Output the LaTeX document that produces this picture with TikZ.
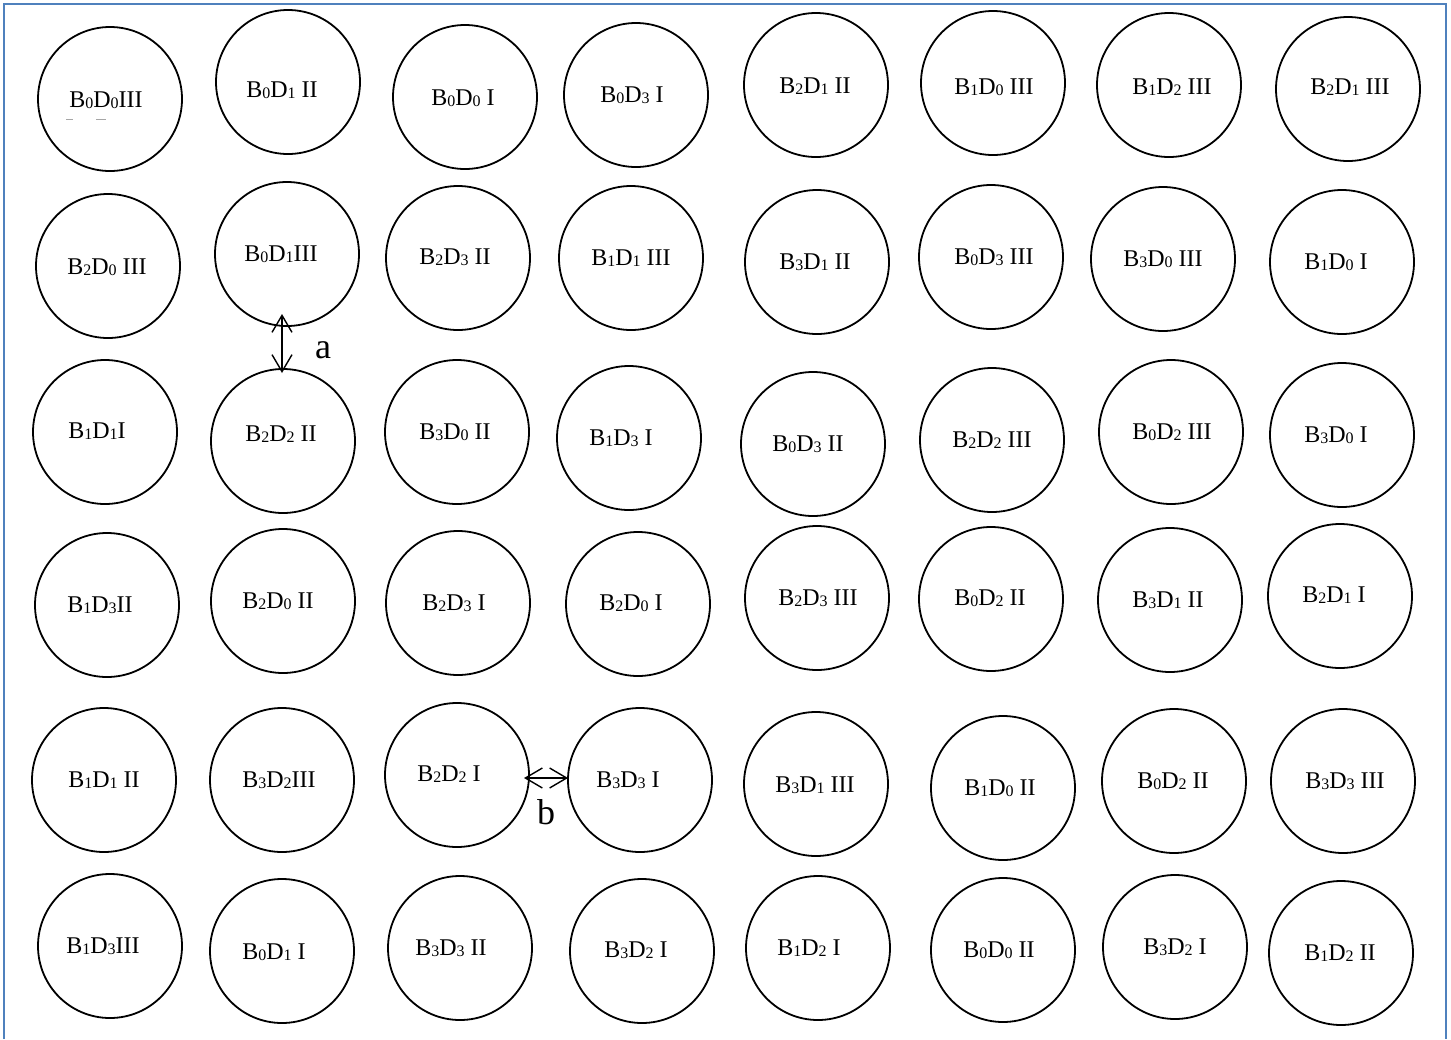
\documentclass[tikz,border=0pt]{standalone}
\usepackage{fontspec}
\setmainfont{Liberation Serif}
\usetikzlibrary{arrows.meta}
\definecolor{framec}{HTML}{4F81BD}
\newcommand{\sbx}[1]{\raisebox{-0.6pt}{\fontsize{8}{8}\selectfont #1}}
\newcommand{\cell}[6]{\node[cir] (#1) at (#2,#3) {}; \node[lbl] (#1t) at (#4,#5) {#6};}
\tikzset{
  cir/.style={circle, draw=black, line width=0.9pt, minimum size=72pt, inner sep=0pt},
  lbl/.style={inner sep=0pt, font=\fontsize{12}{14}\selectfont},
  biglbl/.style={inner sep=0pt, font=\fontsize{18}{20}\selectfont},
  dbl/.style={line width=0.7pt, {Straight Barb[length=8.5pt,width=10pt]}-{Straight Barb[length=8.5pt,width=10pt]}},
}
\begin{document}
\begin{tikzpicture}[x=0.5pt,y=-0.5pt]
\useasboundingbox (0,0) rectangle (1451,1039);
\draw[framec, line width=1.1pt] (4,1039) -- (4,4) -- (1446,4) -- (1446,1039);
% row 1
\cell{c11}{110}{99}{106}{100}{B\sbx{0}D\sbx{0}III}
\cell{c12}{288}{82}{282}{90}{B\sbx{0}D\sbx{1} II}
\cell{c13}{465}{97}{463}{98}{B\sbx{0}D\sbx{0} I}
\cell{c14}{636}{95}{632}{95}{B\sbx{0}D\sbx{3} I}
\cell{c15}{816}{85}{815}{86}{B\sbx{2}D\sbx{1} II}
\cell{c16}{993}{83}{994}{87}{B\sbx{1}D\sbx{0} III}
\cell{c17}{1169}{85}{1172}{87}{B\sbx{1}D\sbx{2} III}
\cell{c18}{1348}{89}{1350}{87}{B\sbx{2}D\sbx{1} III}
\draw[gray!70, line width=0.5pt] (66,119) -- (73,119) (96,119) -- (106,119);
% row 2
\cell{c21}{108}{266}{107}{267}{B\sbx{2}D\sbx{0} III}
\cell{c22}{287}{254}{281}{254}{B\sbx{0}D\sbx{1}III}
\cell{c23}{458}{258}{455}{257}{B\sbx{2}D\sbx{3} II}
\cell{c24}{631}{258}{631}{258}{B\sbx{1}D\sbx{1} III}
\cell{c25}{817}{262}{815}{262}{B\sbx{3}D\sbx{1} II}
\cell{c26}{991}{257}{994}{257}{B\sbx{0}D\sbx{3} III}
\cell{c27}{1163}{259}{1163}{259}{B\sbx{3}D\sbx{0} III}
\cell{c28}{1342}{262}{1336}{262}{B\sbx{1}D\sbx{0} I}
% row 3
\cell{c31}{105}{432}{97}{431}{B\sbx{1}D\sbx{1}I}
\cell{c32}{283}{441}{281}{434}{B\sbx{2}D\sbx{2} II}
\cell{c33}{457}{432}{455}{432}{B\sbx{3}D\sbx{0} II}
\cell{c34}{629}{438}{621}{438}{B\sbx{1}D\sbx{3} I}
\cell{c35}{813}{444}{808}{444}{B\sbx{0}D\sbx{3} II}
\cell{c36}{992}{440}{992}{440}{B\sbx{2}D\sbx{2} III}
\cell{c37}{1171}{432}{1172}{432}{B\sbx{0}D\sbx{2} III}
\cell{c38}{1342}{435}{1336}{435}{B\sbx{3}D\sbx{0} I}
% row 4
\cell{c41}{107}{605}{100}{605}{B\sbx{1}D\sbx{3}II}
\cell{c42}{283}{601}{278}{601}{B\sbx{2}D\sbx{0} II}
\cell{c43}{458}{603}{454}{603}{B\sbx{2}D\sbx{3} I}
\cell{c44}{638}{604}{631}{603}{B\sbx{2}D\sbx{0} I}
\cell{c45}{817}{598}{818}{598}{B\sbx{2}D\sbx{3} III}
\cell{c46}{991}{599}{990}{598}{B\sbx{0}D\sbx{2} II}
\cell{c47}{1170}{600}{1168}{600}{B\sbx{3}D\sbx{1} II}
\cell{c48}{1340}{596}{1334}{595}{B\sbx{2}D\sbx{1} I}
% row 5
\cell{c51}{104}{780}{104}{780}{B\sbx{1}D\sbx{1} II}
\cell{c52}{282}{780}{279}{780}{B\sbx{3}D\sbx{2}III}
\cell{c53}{457}{775}{449}{774}{B\sbx{2}D\sbx{2} I}
\cell{c54}{640}{780}{628}{780}{B\sbx{3}D\sbx{3} I}
\cell{c55}{816}{784}{815}{785}{B\sbx{3}D\sbx{1} III}
\cell{c56}{1003}{788}{1000}{788}{B\sbx{1}D\sbx{0} II}
\cell{c57}{1174}{781}{1173}{781}{B\sbx{0}D\sbx{2} II}
\cell{c58}{1343}{781}{1345}{781}{B\sbx{3}D\sbx{3} III}
% row 6
\cell{c61}{110}{946}{103}{946}{B\sbx{1}D\sbx{3}III}
\cell{c62}{282}{951}{274}{952}{B\sbx{0}D\sbx{1} I}
\cell{c63}{460}{948}{451}{948}{B\sbx{3}D\sbx{3} II}
\cell{c64}{642}{951}{636}{950}{B\sbx{3}D\sbx{2} I}
\cell{c65}{818}{948}{809}{948}{B\sbx{1}D\sbx{2} I}
\cell{c66}{1003}{950}{999}{950}{B\sbx{0}D\sbx{0} II}
\cell{c67}{1175}{947}{1175}{947}{B\sbx{3}D\sbx{2} I}
\cell{c68}{1341}{953}{1340}{953}{B\sbx{1}D\sbx{2} II}
% arrows
\coordinate (a1) at (282,314);
\coordinate (a2) at (282,373);
\draw[dbl] (a1) -- (a2);
\node[biglbl] (la) at (323,350) {a};
\coordinate (b1) at (524,778);
\coordinate (b2) at (568,778);
\draw[dbl] (b1) -- (b2);
\node[biglbl] (lb) at (546,812) {b};
\end{tikzpicture}
\end{document}
